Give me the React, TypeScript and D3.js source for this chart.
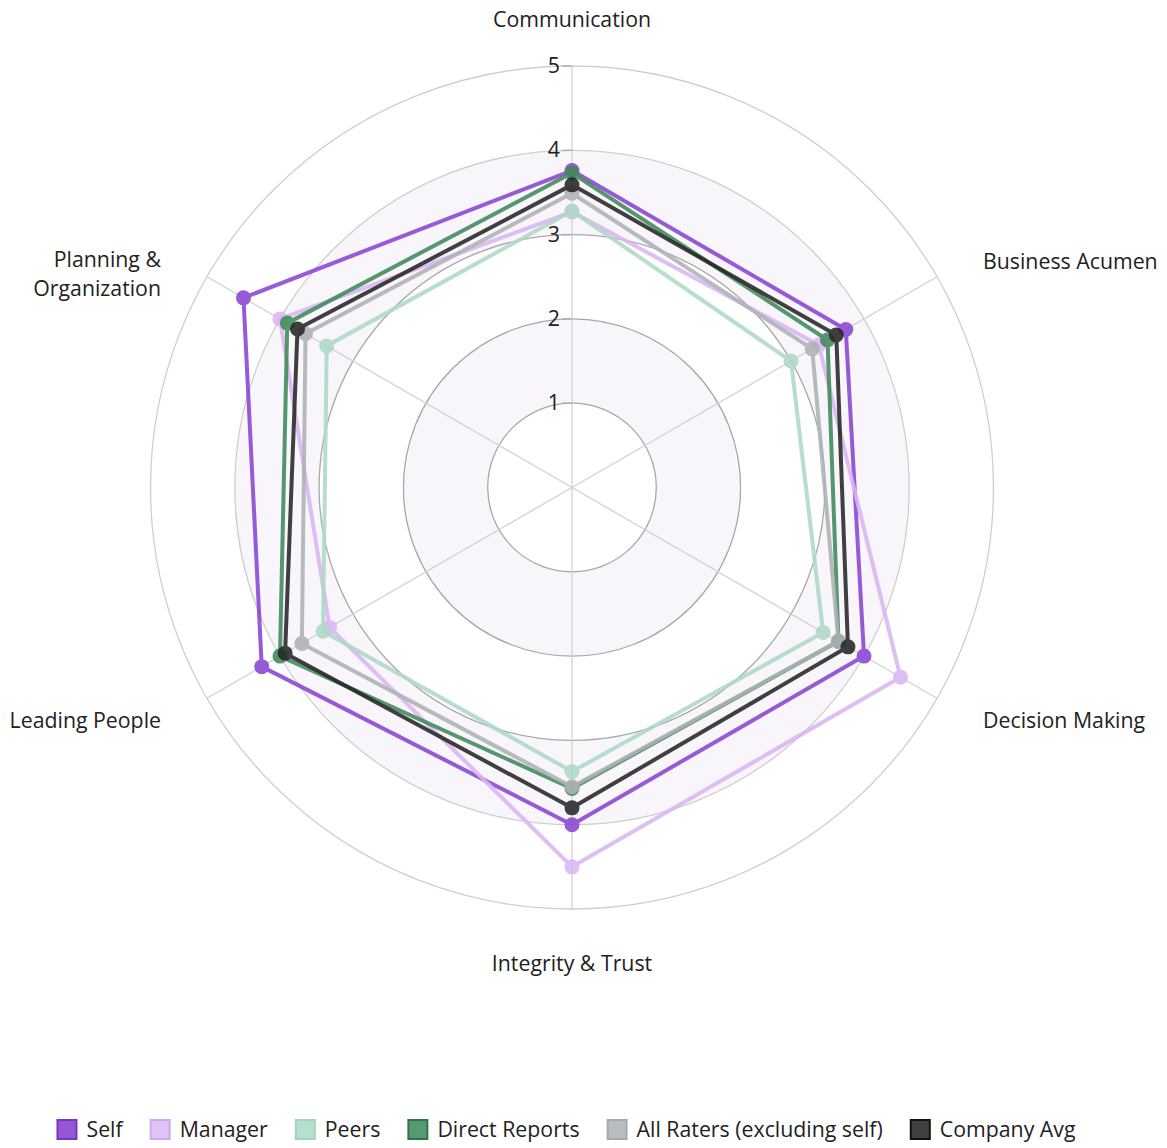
import React, { useRef, useEffect } from "react";
import * as d3 from "d3";

// competencies, clockwise from the top
const categories = [
  "Communication",
  "Business Acumen",
  "Decision Making",
  "Integrity & Trust",
  "Leading People",
  "Planning & Organization",
];

const seriesNames = [
  "Self",
  "Manager",
  "Peers",
  "Direct Reports",
  "All Raters (excluding self)",
  "Company Avg",
];

const selfScores = [3.76, 3.75, 4.0, 4.0, 4.25, 4.5];
const managerScores = [3.27, 3.38, 4.5, 4.5, 3.32, 4.0];
const peerScores = [3.28, 3.0, 3.44, 3.37, 3.41, 3.36];
const directReportScores = [3.73, 3.5, 3.65, 3.57, 4.0, 3.9];
const allRaterScores = [3.49, 3.29, 3.65, 3.55, 3.7, 3.65];
const companyAvgScores = [3.59, 3.62, 3.78, 3.8, 3.93, 3.76];

const radialTicks = [1, 2, 3, 4, 5];

const lineColors = ["#8a45d3", "#dab6f3", "#aed9c7", "#3f8a5a", "#adb3b5", "#262626"];
const boxFill = ["#9557d6", "#e0c3f5", "#b6dfcd", "#579970", "#b8bdbe", "#404040"];
const boxStroke = ["#7a35c4", "#d1a8ef", "#a3d3bf", "#2f7548", "#a5abad", "#111111"];

const W = 1167;
const H = 1148;
const cx = 572;
const cy = 487.5;
const R = 421.5;
const FONT = "'Open Sans', sans-serif";
const FS = 21.3;

function RadarChart() {
  const svgRef = useRef<SVGSVGElement>(null);

  useEffect(() => {
    const svg = d3.select(svgRef.current);
    svg.selectAll("*").remove();

    const allScores = [selfScores, managerScores, peerScores, directReportScores, allRaterScores, companyAvgScores];

    const r = d3.scaleLinear().domain([0, 5]).range([0, R]);
    const angle = d3
      .scalePoint<string>()
      .domain(categories)
      .range([0, 2 * Math.PI - (2 * Math.PI) / categories.length]);

    const g = svg.append("g").attr("transform", `translate(${cx},${cy})`);

    // alternating bands
    const bands = g.append("g");
    [
      [1, 2],
      [3, 4],
    ].forEach(([a, b]) => {
      bands
        .append("path")
        .attr("d", d3.arc()({ innerRadius: r(a), outerRadius: r(b), startAngle: 0, endAngle: 2 * Math.PI }) as string)
        .attr("fill", "#f8f5fb");
    });

    // grid circles
    g.selectAll(".ring")
      .data(radialTicks)
      .join("circle")
      .attr("class", "ring")
      .attr("r", (d) => r(d))
      .attr("fill", "none")
      .attr("stroke", (d) => (d <= 3 ? "#a8a8a8" : "#cfcfcf"))
      .attr("stroke-width", 1.3);

    // spokes
    g.selectAll(".spoke")
      .data(categories)
      .join("line")
      .attr("class", "spoke")
      .attr("x1", 0)
      .attr("y1", 0)
      .attr("x2", (d) => r(5) * Math.sin(angle(d)!))
      .attr("y2", (d) => -r(5) * Math.cos(angle(d)!))
      .attr("stroke", "#d2d2d2")
      .attr("stroke-width", 1.3);

    // radial tick marks and labels on the top spoke
    const ticks = g.append("g");
    ticks
      .selectAll("line")
      .data(radialTicks)
      .join("line")
      .attr("x1", -10)
      .attr("x2", 0)
      .attr("y1", (d) => -r(d))
      .attr("y2", (d) => -r(d))
      .attr("stroke", "#aaaaaa")
      .attr("stroke-width", 1.3);
    ticks
      .selectAll("text")
      .data(radialTicks)
      .join("text")
      .attr("x", -12)
      .attr("y", (d) => -r(d) + 7)
      .attr("text-anchor", "end")
      .attr("font-family", FONT)
      .attr("font-size", FS)
      .attr("fill", "#222")
      .text((d) => d);

    // series
    const radial = d3
      .lineRadial<number>()
      .angle((_, i) => angle(categories[i])!)
      .radius((d) => r(d))
      .curve(d3.curveLinearClosed);

    allScores.forEach((scores, si) => {
      const sg = g.append("g").attr("opacity", 0.88);
      sg.append("path")
        .attr("d", radial(scores) as string)
        .attr("fill", "none")
        .attr("stroke", lineColors[si])
        .attr("stroke-width", 4)
        .attr("stroke-linejoin", "round");
      sg.selectAll("circle")
        .data(scores)
        .join("circle")
        .attr("cx", (d, i) => r(d) * Math.sin(angle(categories[i])!))
        .attr("cy", (d, i) => -r(d) * Math.cos(angle(categories[i])!))
        .attr("r", 7.5)
        .attr("fill", lineColors[si]);
    });

    // category labels
    const labels = g.append("g");
    categories.forEach((c) => {
      const a = angle(c)!;
      const ex = r(5) * Math.sin(a);
      const ey = -r(5) * Math.cos(a);
      const s = Math.sin(a);
      const co = Math.cos(a);
      let anchor = "middle";
      let x = ex;
      let y = ey;
      if (Math.abs(s) < 0.01) {
        y = co > 0 ? ey - 39 : ey + 62;
      } else {
        anchor = s > 0 ? "start" : "end";
        x = ex + (s > 0 ? 46 : -46);
        y = co > 0 ? ey - 8 : ey + 30;
      }
      const parts = c === "Planning & Organization" ? ["Planning &", "Organization"] : [c];
      const y0 = parts.length > 1 ? y - 2 : y;
      parts.forEach((p, i) => {
        labels
          .append("text")
          .attr("text-anchor", anchor)
          .attr("font-family", FONT)
          .attr("font-size", FS)
          .attr("fill", "#222")
          .attr("x", x)
          .attr("y", y0 + i * 29)
          .text(p);
      });
    });

    // legend
    const legend = svg.append("g").attr("transform", `translate(0, 1130)`);
    const items = legend
      .selectAll("g")
      .data(seriesNames)
      .join("g");
    items
      .append("rect")
      .attr("x", 1)
      .attr("y", -10)
      .attr("width", 19)
      .attr("height", 19)
      .attr("fill", (_, i) => boxFill[i])
      .attr("stroke", (_, i) => boxStroke[i])
      .attr("stroke-width", 2);
    items
      .append("text")
      .attr("x", 30)
      .attr("y", 7)
      .attr("font-family", FONT)
      .attr("font-size", FS)
      .attr("fill", "#222")
      .text((d) => d);

    const widths: number[] = [];
    items.each(function () {
      const t = d3.select(this).select("text").node() as SVGTextElement;
      widths.push(30 + t.getComputedTextLength());
    });
    const gap = 27;
    const total = d3.sum(widths) + gap * (widths.length - 1);
    let x0 = 566 - total / 2;
    items.attr("transform", (_, i) => {
      const x = x0;
      x0 += widths[i] + gap;
      return `translate(${x},0)`;
    });
  }, []);

  return (
    <svg
      ref={svgRef}
      width={W}
      height={H}
      style={{ position: "absolute", left: 0, top: 0, background: "#fff" }}
    />
  );
}

export default function App() {
  return <RadarChart />;
}
